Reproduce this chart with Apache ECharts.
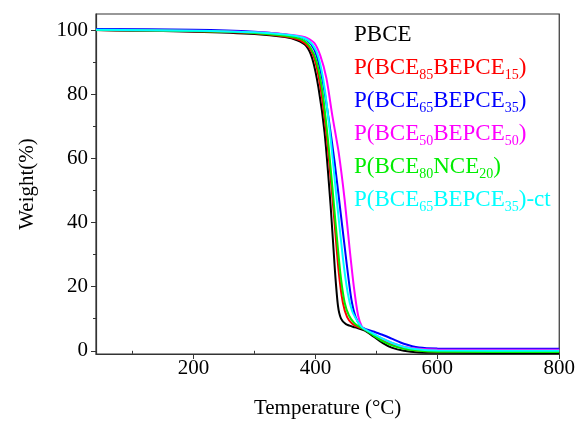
<!DOCTYPE html>
<html>
<head>
<meta charset="utf-8">
<script src="https://cdn.jsdelivr.net/npm/echarts@6/dist/echarts.min.js"></script>
<style>html,body{margin:0;padding:0;background:#fff}#c{width:578px;height:424px}</style>
</head>
<body>
<div id="c"></div>
<script>
const seriesNames = ['PBCE','P(BCE85BEPCE15)','P(BCE65BEPCE35)','P(BCE50BEPCE50)','P(BCE80NCE20)','P(BCE65BEPCE35)-ct'];
const seriesColors = ['#000000','#ff0000','#0000ff','#ff00ff','#00ee00','#00ffff'];
const pbce = [[40,100],[100,99.8],[200,99.5],[300,98.8],[350,97.8],[370,96.8],[385,95],[395,91],[405,82],[415,68],[425,45],[432,25],[437,14],[442,10],[450,8.3],[465,7.3],[480,6.4],[495,4.5],[510,2.5],[525,1],[545,0],[570,-0.5],[600,-0.6],[800,-0.7]];
const p85 = [[40,100],[100,99.9],[200,99.6],[300,99],[350,98],[375,96.8],[390,94.5],[400,90],[410,80],[420,64],[430,43],[438,25],[445,15],[452,10.5],[460,8.5],[470,7.4],[480,6.7],[495,5],[510,3.3],[525,2],[545,0.8],[570,0],[600,-0.2],[800,-0.3]];
const p65 = [[40,100.3],[200,100.1],[300,99.5],[350,98.6],[380,97.5],[393,95.5],[402,92],[412,84],[422,72],[432,58],[442,42],[452,26],[459,16],[466,10.5],[474,7.8],[480,7],[495,6],[510,5],[525,3.8],[545,2.2],[570,1],[600,0.7],[800,0.6]];
const p50 = [[40,100],[200,99.8],[300,99.3],[350,98.7],[383,97.8],[398,96],[408,92],[418,85],[428,73],[438,62],[448,47],[456,32],[463,20],[470,11],[476,7.6],[481,6.7],[495,5.2],[510,3.8],[525,2.5],[545,1.3],[570,0.6],[600,0.4],[800,0.3]];
const p80 = [[40,100],[200,99.7],[300,99.1],[350,98.2],[378,97],[392,94.5],[402,90],[412,80],[422,63],[432,42],[441,24],[448,15],[455,11],[463,8.8],[472,7.5],[480,6.7],[495,4.8],[510,3],[525,1.7],[545,0.6],[570,0],[600,-0.3],[800,-0.4]];
const p65ct = [[40,100.1],[200,99.8],[300,99.3],[350,98.6],[380,97.6],[395,95.5],[405,91.5],[415,82],[425,66],[435,47],[445,29],[453,18],[460,12.5],[468,9.5],[475,7.6],[480,6.8],[495,5.3],[510,3.8],[525,2.5],[545,1.2],[570,0.4],[600,0.1],[800,0]];
const seriesData = [pbce,p85,p65,p50,p80,p65ct];
const xMajor = [200,400,600,800];
const xMinor = [100,300,500,700];
const yMajor = [0,20,40,60,80,100];
const yMinor = [10,30,50,70,90];

const legendRich = ['PBCE','P(BCE{s|85}BEPCE{s|15})','P(BCE{s|65}BEPCE{s|35})','P(BCE{s|50}BEPCE{s|50})','P(BCE{s|80}NCE{s|20})','P(BCE{s|65}BEPCE{s|35})-ct'];

const font = 'Liberation Serif';
const chart = echarts.init(document.getElementById('c'));
const axisCommon = {min: 40, max: 800, type: 'value'};
chart.setOption({
  animation: false,
  grid: {left: 96, right: 17, top: 14, bottom: 69, show: true, borderColor: '#333', borderWidth: 1.2},
  xAxis: [
    Object.assign({}, axisCommon, {
      name: 'Temperature (°C)', nameLocation: 'middle', nameGap: 44,
      nameTextStyle: {fontFamily: font, fontSize: 21, color: '#000'},
      axisLine: {show: true, onZero: false, lineStyle: {color: '#333', width: 1.2}},
      axisTick: {show: true, customValues: xMajor, length: 5, lineStyle: {color: '#333'}},
      axisLabel: {customValues: xMajor, fontFamily: font, fontSize: 21, color: '#000', margin: 4},
      splitLine: {show: false}
    }),
    Object.assign({}, axisCommon, {
      position: 'bottom',
      axisLine: {show: false},
      axisTick: {show: true, customValues: xMinor, length: 3, lineStyle: {color: '#333'}},
      axisLabel: {show: false}, splitLine: {show: false}
    })
  ],
  yAxis: [
    {type: 'value', min: -1, max: 105,
      name: 'Weight(%)', nameLocation: 'middle', nameGap: 58,
      nameTextStyle: {fontFamily: font, fontSize: 21, color: '#000'},
      axisLine: {show: true, onZero: false, lineStyle: {color: '#333', width: 1.2}},
      axisTick: {show: true, customValues: yMajor, length: 5, lineStyle: {color: '#333'}},
      axisLabel: {customValues: yMajor, fontFamily: font, fontSize: 21, color: '#000', margin: 8},
      splitLine: {show: false}},
    {type: 'value', min: -1, max: 105, position: 'left',
      axisLine: {show: false},
      axisTick: {show: true, customValues: yMinor, length: 3, lineStyle: {color: '#333'}},
      axisLabel: {show: false}, splitLine: {show: false}}
  ],
  legend: {
    orient: 'vertical', left: 344, top: 15, itemGap: 4, itemWidth: 0, itemHeight: 0,
    selectedMode: false,
    data: seriesNames.map((n, i) => ({name: n, icon: 'none', textStyle: {color: seriesColors[i]}})),
    formatter: function (name) { return legendRich[seriesNames.indexOf(name)]; },
    textStyle: {fontFamily: font, fontSize: 23, lineHeight: 29, verticalAlign: 'top',
      rich: {s: {fontFamily: font, fontSize: 14, lineHeight: 14, verticalAlign: 'top', padding: [15, 0, 0, 0]}}}
  },
  series: seriesNames.map((n, i) => ({
    name: n, type: 'line', data: seriesData[i], showSymbol: false, symbol: 'none',
    smooth: 0.25,
    lineStyle: {color: seriesColors[i], width: 2}, itemStyle: {color: seriesColors[i]},
    xAxisIndex: 0, yAxisIndex: 0
  }))
});
</script>
</body>
</html>
